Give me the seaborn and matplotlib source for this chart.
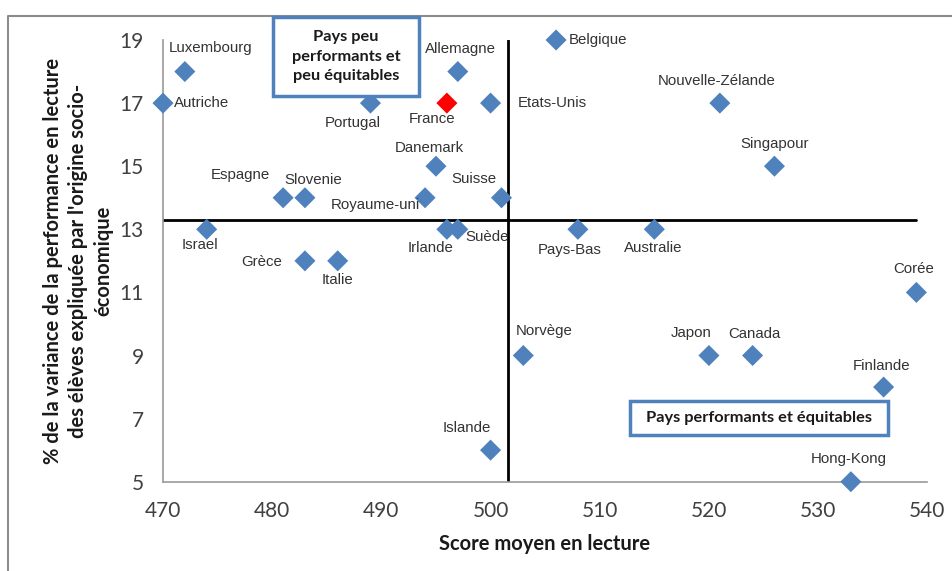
import matplotlib
matplotlib.use("Agg")
import matplotlib.pyplot as plt
from matplotlib.lines import Line2D
from matplotlib.patches import FancyBboxPatch
import seaborn as sns
import pandas as pd

# PISA reading: mean score vs share of variance explained by socio-economic background
countries = ["Luxembourg", "Autriche", "Portugal", "France", "Allemagne", "Belgique",
             "Etats-Unis", "Nouvelle-Zélande", "Danemark", "Singapour", "Espagne",
             "Slovenie", "Royaume-uni", "Suisse", "Israel", "Irlande", "Suède",
             "Pays-Bas", "Australie", "Grèce", "Italie", "Corée", "Norvège", "Japon",
             "Canada", "Finlande", "Islande", "Hong-Kong"]
scores = [472, 470, 489, 496, 497, 506, 500, 521, 495, 526, 481, 483, 494, 501,
          474, 496, 497, 508, 515, 483, 486, 539, 503, 520, 524, 536, 500, 533]
variance = [18, 17, 17, 17, 18, 19, 17, 17, 15, 15, 14, 14, 14, 14, 13, 13, 13,
            13, 13, 12, 12, 11, 9, 9, 9, 8, 6, 5]
mean_score = 501.6
mean_variance = 13.3

x_ticks = [470, 480, 490, 500, 510, 520, 530, 540]
y_ticks = [5, 7, 9, 11, 13, 15, 17, 19]

df = pd.DataFrame({"pays": countries, "score": scores, "variance": variance})
df["groupe"] = ["France" if c == "France" else "Autres" for c in countries]

# label placement in pixels relative to the marker (dx, dy, horizontal alignment)
label_pos = {
    "Luxembourg": (26, 24, "center"), "Autriche": (11, 0, "left"),
    "Portugal": (-18, -20, "center"), "France": (-15, -16, "center"),
    "Allemagne": (3, 23, "center"), "Belgique": (13, 0, "left"),
    "Etats-Unis": (27, 0, "left"), "Nouvelle-Zélande": (-3, 22, "center"),
    "Danemark": (-7, 18, "center"), "Singapour": (0, 22, "center"),
    "Espagne": (-43, 23, "center"), "Slovenie": (8, 18, "center"),
    "Royaume-uni": (-5, -7, "right"), "Suisse": (-28, 19, "center"),
    "Israel": (-7, -16, "center"), "Irlande": (-16, -19, "center"),
    "Suède": (8, -8, "left"), "Pays-Bas": (-8, -21, "center"),
    "Australie": (-1, -19, "center"), "Grèce": (-23, -1, "right"),
    "Italie": (0, -19, "center"), "Corée": (-3, 23, "center"),
    "Norvège": (21, 25, "center"), "Japon": (-18, 22, "center"),
    "Canada": (2, 22, "center"), "Finlande": (-2, 21, "center"),
    "Islande": (-24, 22, "center"), "Hong-Kong": (-2, 23, "center"),
}

sns.set_theme(style="white")
plt.rcParams["font.family"] = ["Lato", "DejaVu Sans"]

W, H = 952, 571
fig = plt.figure(figsize=(W / 100, H / 100), dpi=100)
AX_L, AX_R, AX_T, AX_B = 163, 927.3, 40, 481.7
ax = fig.add_axes([AX_L / W, 1 - AX_B / H, (AX_R - AX_L) / W, (AX_B - AX_T) / H])

# reference lines at the means
ax.plot([470, 539], [mean_variance, mean_variance], color="black", lw=2.0, zorder=2)
ax.plot([mean_score, mean_score], [5, 19], color="black", lw=2.0, zorder=2)

sns.scatterplot(data=df, x="score", y="variance", hue="groupe",
                palette={"Autres": "#4F81BD", "France": "#FF0000"},
                marker="D", s=115, edgecolor="none", legend=False,
                clip_on=False, zorder=3, ax=ax)

sc = 0.72  # px -> points at 100 dpi
for name, x, y in zip(countries, scores, variance):
    dx, dy, ha = label_pos[name]
    ax.annotate(name, (x, y), xytext=(dx * sc, dy * sc), textcoords="offset points",
                ha=ha, va="center", fontsize=10.8, color="#333333",
                family=["Liberation Sans", "DejaVu Sans"], zorder=4)

ax.set_xlim(470, 540)
ax.set_ylim(5, 19)
ax.set_xticks(x_ticks)
ax.set_yticks(y_ticks)
ax.tick_params(axis="both", direction="in", length=6, width=1, color="#9a9a9a",
               labelsize=15, labelcolor="#404040")
ax.tick_params(axis="y", pad=14)
ax.tick_params(axis="x", pad=14)
for side in ["top", "right"]:
    ax.spines[side].set_visible(False)
for side in ["left", "bottom"]:
    ax.spines[side].set_color("#9a9a9a")
    ax.spines[side].set_linewidth(1.2)

ax.set_xlabel("Score moyen en lecture", fontsize=14.5, fontweight="bold", color="#1a1a1a")
ax.set_ylabel("% de la variance de la performance en lecture\n"
              "des élèves expliquée par l'origine socio-\néconomique",
              fontsize=14.5, fontweight="bold", color="#1a1a1a", linespacing=1.3)
ax.xaxis.set_label_coords((545 - AX_L) / (AX_R - AX_L), -(534 - AX_B) / (AX_B - AX_T))
ax.yaxis.set_label_coords(-(AX_L - 113) / (AX_R - AX_L), (AX_B - 261) / (AX_B - AX_T))


def fig_box(x0, y0, x1, y1, text):
    box = FancyBboxPatch((x0 / W, 1 - y1 / H), (x1 - x0) / W, (y1 - y0) / H,
                         boxstyle="square,pad=0", transform=fig.transFigure,
                         facecolor="white", edgecolor="#4F81BD", lw=2.5, zorder=10)
    fig.patches.append(box)
    fig.text((x0 + x1) / 2 / W, 1 - (y0 + y1) / 2 / H, text, ha="center", va="center",
             fontsize=11.8, fontweight="bold", color="#1a1a1a", linespacing=1.5,
             zorder=11)


fig_box(273, 17, 419, 96, "Pays peu\nperformants et\npeu équitables")
fig_box(630, 401, 888, 435, "Pays performants et équitables")

# chart frame
fig.lines.append(Line2D([8 / W, 8 / W, 1], [0, 1 - 16 / H, 1 - 16 / H],
                        transform=fig.transFigure, color="#8c8c8c", lw=1.5))

fig.savefig("out.png", dpi=100, facecolor="white")
